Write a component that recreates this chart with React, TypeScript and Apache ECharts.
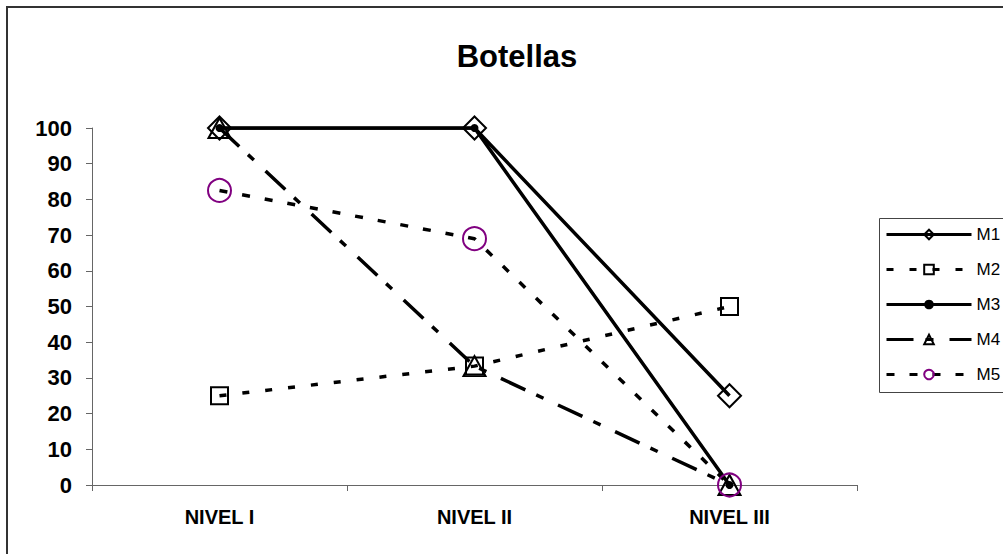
import React, { useEffect, useRef } from "react";
import * as echarts from "echarts";

const categories = ["NIVEL I", "NIVEL II", "NIVEL III"];
const m1 = [100, 100, 25];
const m2 = [25, 33.3, 50];
const m3 = [100, 100, 0];
const m4 = [100, 33.3, 0];
const m5 = [82.5, 69, 0];
const yTicks = { min: 0, max: 100, interval: 10 };

const FONT = "'Liberation Sans', Arial, sans-serif";
const clear = "rgba(255,255,255,0)";

export default function App() {
  const ref = useRef<HTMLDivElement>(null);
  useEffect(() => {
    if (!ref.current) return;
    const chart = echarts.init(ref.current, null, { renderer: "svg" });
    chart.setOption({
      animation: false,
      backgroundColor: "#fff",
      title: {
        text: "Botellas",
        left: 512,
        textAlign: "center",
        top: 36,
        textStyle: { fontFamily: FONT, fontSize: 31, fontWeight: "bold", color: "#000" },
      },
      graphic: [
        {
          type: "polyline",
          shape: { points: [[7, 600], [7, 7], [1010, 7]] },
          style: { fill: "none", stroke: "#333", lineWidth: 2 },
          silent: true,
          z: 100,
        },
        {
          type: "rect",
          shape: { x: 879.5, y: 218.5, width: 140, height: 174 },
          style: { fill: "none", stroke: "#444", lineWidth: 1 },
          silent: true,
        },
      ],
      legend: {
        orient: "vertical",
        left: 885,
        top: 226,
        padding: 0,
        itemWidth: 85,
        itemHeight: 12,
        itemGap: 18,
        lineStyle: { width: 3 },
        textStyle: { fontFamily: FONT, fontSize: 17, color: "#000", padding: [0, 0, 0, 0] },
        data: ["M1", "M2", "M3", "M4", "M5"],
      },
      grid: { left: 92, top: 128, width: 765, height: 357, containLabel: false },
      xAxis: {
        type: "category",
        data: categories,
        boundaryGap: true,
        axisLine: { lineStyle: { color: "#666", width: 1 } },
        axisTick: { show: true, length: 6, lineStyle: { color: "#666" } },
        axisLabel: { fontFamily: FONT, fontSize: 20, fontWeight: "bold", color: "#000", margin: 22 },
        splitLine: { show: false },
      },
      yAxis: {
        type: "value",
        min: yTicks.min,
        max: yTicks.max,
        interval: yTicks.interval,
        axisLine: { show: true, lineStyle: { color: "#666", width: 1 } },
        axisTick: { show: true, length: 6, lineStyle: { color: "#666" } },
        axisLabel: { fontFamily: FONT, fontSize: 22, fontWeight: "bold", color: "#000", margin: 20 },
        splitLine: { show: false },
      },
      series: [
        {
          name: "M1",
          type: "line",
          data: m1,
          symbol: "diamond",
          symbolSize: 23,
          lineStyle: { color: "#000", width: 3.5, type: "solid" },
          itemStyle: { color: clear, borderColor: "#000", borderWidth: 2 },
          z: 2,
        },
        {
          name: "M2",
          type: "line",
          data: m2,
          symbol: "rect",
          symbolSize: 17,
          lineStyle: { color: "#000", width: 3.5, type: [7, 16] },
          itemStyle: { color: clear, borderColor: "#000", borderWidth: 2 },
          z: 3,
        },
        {
          name: "M3",
          type: "line",
          data: m3,
          symbol: "circle",
          symbolSize: 8,
          lineStyle: { color: "#000", width: 3.5, type: "solid" },
          itemStyle: { color: "#000", borderColor: "#000", borderWidth: 0 },
          z: 4,
        },
        {
          name: "M4",
          type: "line",
          data: m4,
          symbol: "triangle",
          symbolSize: [22, 20],
          lineStyle: { color: "#000", width: 3.5, type: [27, 12, 8, 16] },
          itemStyle: { color: clear, borderColor: "#000", borderWidth: 2 },
          z: 5,
        },
        {
          name: "M5",
          type: "line",
          data: m5,
          symbol: "circle",
          symbolSize: 23,
          lineStyle: { color: "#000", width: 3.5, type: [8, 15] },
          itemStyle: { color: clear, borderColor: "#800080", borderWidth: 2 },
          z: 6,
        },
      ],
    });
    return () => chart.dispose();
  }, []);
  return (
    <div
      ref={ref}
      style={{ position: "fixed", left: 0, top: 0, width: 1003, height: 554 }}
    />
  );
}
